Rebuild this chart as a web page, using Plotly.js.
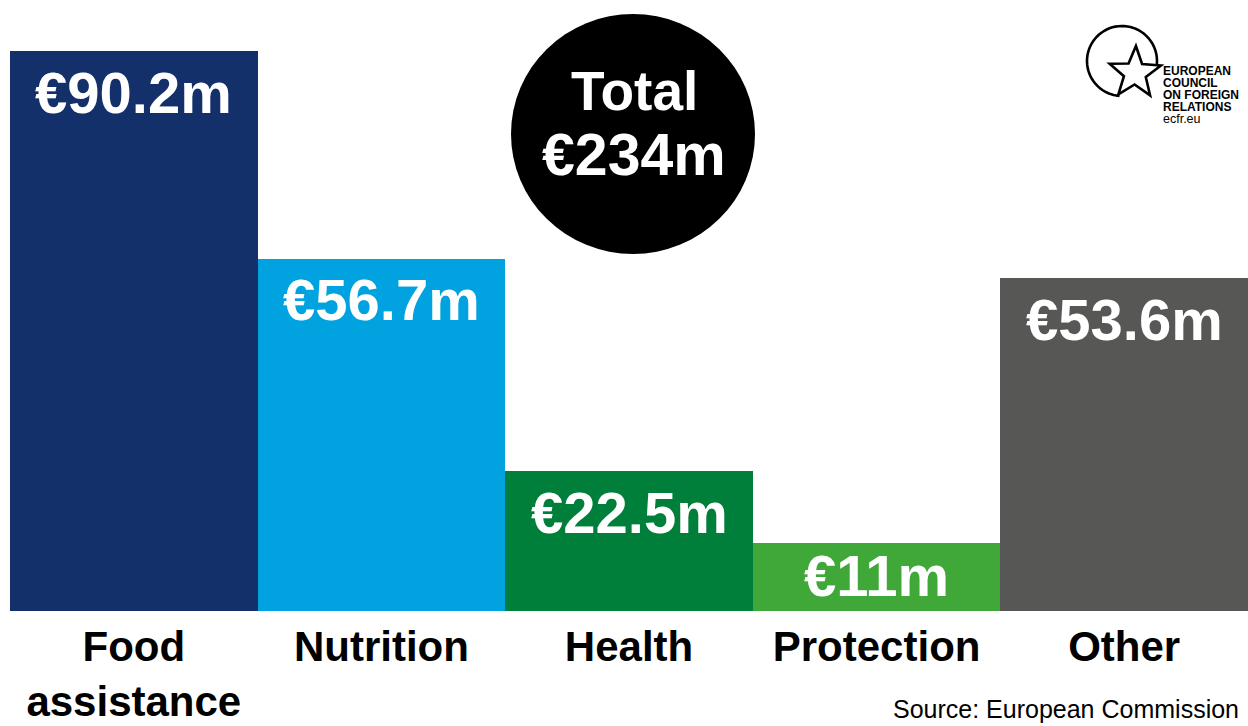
<!DOCTYPE html>
<html>
<head>
<meta charset="utf-8">
<script src="https://cdn.plot.ly/plotly-3.0.1.min.js"></script>
<style>
  html, body { margin: 0; padding: 0; background: #ffffff; }
  #chart { width: 1248px; height: 726px; }
</style>
</head>
<body>
<div id="chart"></div>
<script>
// ---- Data ----
const categories = ['Food assistance', 'Nutrition', 'Health', 'Protection', 'Other'];
const tickLabels = ['Food<br>assistance', 'Nutrition', 'Health', 'Protection', 'Other'];
const valuesMillion = [90.2, 56.7, 22.5, 11, 53.6];
const totalMillion = 234;
const barColors = ['#13306a', '#00a3e0', '#007f3a', '#40a739', '#575756'];
const sourceText = 'Source: European Commission';
const logoLines = ['EUROPEAN', 'COUNCIL', 'ON FOREIGN', 'RELATIONS'];
const logoUrl = 'ecfr.eu';

// ---- Layout geometry (pixels) ----
const W = 1248, H = 726;
const M = { l: 10, r: 0, t: 51, b: 115 };
const plotW = W - M.l - M.r, plotH = H - M.t - M.b;
const px = x => (x - M.l) / plotW;          // pixel x -> paper x
const py = y => (H - M.b - y) / plotH;      // pixel y -> paper y

const FONT = '"Liberation Sans", Arial, sans-serif';
const ymax = Math.max(...valuesMillion);
const pxPerUnit = plotH / ymax;
const labelOffset = 41; // px below bar top

const annotations = [];
valuesMillion.forEach((v, i) => {
  const barPx = v * pxPerUnit;
  const fits = barPx > 2 * labelOffset;
  annotations.push({
    x: categories[i], y: fits ? v : v / 2, xref: 'x', yref: 'y',
    yshift: fits ? -labelOffset : 1,
    text: '€' + v + 'm', showarrow: false,
    xanchor: 'center', yanchor: 'middle',
    font: { family: FONT, size: 58, color: '#ffffff', weight: 'bold' }
  });
});

// Total bubble text
annotations.push({
  x: px(634), y: py(91), xref: 'paper', yref: 'paper', showarrow: false,
  text: 'Total', xanchor: 'center', yanchor: 'middle',
  font: { family: FONT, size: 55, color: '#ffffff', weight: 'bold' }
});
annotations.push({
  x: px(634), y: py(155), xref: 'paper', yref: 'paper', showarrow: false,
  text: '€' + totalMillion + 'm', xanchor: 'center', yanchor: 'middle',
  font: { family: FONT, size: 59, color: '#ffffff', weight: 'bold' }
});

// Source
annotations.push({
  x: px(891), y: py(709), xref: 'paper', yref: 'paper', showarrow: false,
  text: sourceText, xanchor: 'left', yanchor: 'middle',
  font: { family: FONT, size: 25, color: '#000000' }
});

// Logo text
const logoY = [70.5, 83, 95, 107];
logoLines.forEach((t, i) => {
  annotations.push({
    x: px(1161), y: py(logoY[i]), xref: 'paper', yref: 'paper', showarrow: false,
    text: t, xanchor: 'left', yanchor: 'middle',
    font: { family: FONT, size: 12, color: '#000000', weight: 'bold' }
  });
});
annotations.push({
  x: px(1161), y: py(119), xref: 'paper', yref: 'paper', showarrow: false,
  text: logoUrl, xanchor: 'left', yanchor: 'middle',
  font: { family: FONT, size: 12.5, color: '#000000' }
});

// ---- Shapes ----
const shapes = [];
// Total circle
shapes.push({
  type: 'circle', xref: 'paper', yref: 'paper',
  x0: px(511), x1: px(755), y0: py(254), y1: py(14),
  fillcolor: '#000000', line: { width: 0 }, layer: 'above'
});
// Logo ring (open arc)
const cx = 1122, cy = 61, R = 35;
let arc = '';
const a0 = 94, a1 = 369;
for (let a = a0; a <= a1; a += 5) {
  const r = a * Math.PI / 180;
  const X = cx + R * Math.cos(r), Y = cy + R * Math.sin(r);
  arc += (a === a0 ? 'M' : 'L') + px(X).toFixed(5) + ',' + py(Y).toFixed(5) + ' ';
}
shapes.push({
  type: 'path', xref: 'paper', yref: 'paper', path: arc,
  line: { color: '#000000', width: 2.6 }, layer: 'above'
});
// Logo star
const sx = 1135, sy = 73, Ro = 27, Ri = 11.5, rot = -88;
let star = '';
for (let k = 0; k < 10; k++) {
  const rr = k % 2 === 0 ? Ro : Ri;
  const ang = (rot + k * 36) * Math.PI / 180;
  const X = sx + rr * Math.cos(ang), Y = sy + rr * Math.sin(ang);
  star += (k === 0 ? 'M' : 'L') + px(X).toFixed(5) + ',' + py(Y).toFixed(5) + ' ';
}
star += 'Z';
shapes.push({
  type: 'path', xref: 'paper', yref: 'paper', path: star,
  fillcolor: '#ffffff', line: { color: '#000000', width: 2.6 }, layer: 'above'
});

const trace = {
  type: 'bar',
  x: categories,
  y: valuesMillion,
  marker: { color: barColors, line: { width: 0 } },
  hoverinfo: 'skip',
  textposition: 'none'
};

const layout = {
  width: W, height: H,
  margin: M,
  paper_bgcolor: '#ffffff', plot_bgcolor: '#ffffff',
  bargap: 0,
  showlegend: false,
  xaxis: {
    type: 'category',
    range: [-0.5, categories.length - 0.5],
    tickvals: categories, ticktext: tickLabels,
    showgrid: false, zeroline: false, showline: false, ticks: '',
    tickfont: { family: FONT, size: 42, color: '#000000', weight: 'bold' },
    ticklabelstandoff: 7,
    fixedrange: true
  },
  yaxis: {
    range: [0, ymax], visible: false, fixedrange: true
  },
  annotations: annotations,
  shapes: shapes
};

Plotly.newPlot('chart', [trace], layout, { displayModeBar: false, staticPlot: true });
</script>
</body>
</html>
